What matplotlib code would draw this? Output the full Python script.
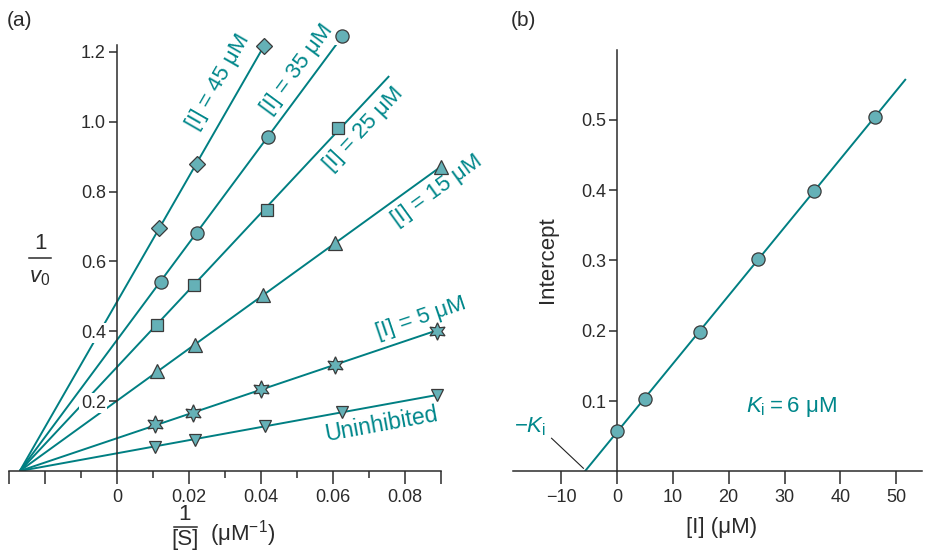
import numpy as np
import matplotlib
matplotlib.use("Agg")
import matplotlib.pyplot as plt
from matplotlib.lines import Line2D

plt.rcParams['font.family'] = ['Liberation Sans', 'DejaVu Sans']
plt.rcParams['mathtext.fontset'] = 'custom'
plt.rcParams['mathtext.rm'] = 'Liberation Sans'
plt.rcParams['mathtext.it'] = 'Liberation Sans:italic'

LINE = '#007f82'
TEXT = '#00878b'
FILL = '#65b1b7'
EDGE = '#3a3a3a'
AXC = '#2b2b2b'

# ---- panel (a): Lineweaver-Burk data ----
series_names = ['Uninhibited', '[I] = 5 μM', '[I] = 15 μM',
                '[I] = 25 μM', '[I] = 35 μM', '[I] = 45 μM']
inv_s = [
    [0.0106, 0.0217, 0.0410, 0.0625, 0.0890],
    [0.0106, 0.0210, 0.0400, 0.0606, 0.0889],
    [0.0110, 0.0217, 0.0406, 0.0606, 0.0900],
    [0.0111, 0.0214, 0.0417, 0.0614],
    [0.0122, 0.0222, 0.0419, 0.0625],
    [0.0117, 0.0222, 0.0408],
]
inv_v = [
    [0.069, 0.089, 0.129, 0.169, 0.218],
    [0.135, 0.166, 0.235, 0.304, 0.401],
    [0.287, 0.361, 0.504, 0.653, 0.871],
    [0.418, 0.533, 0.748, 0.983],
    [0.541, 0.682, 0.957, 1.246],
    [0.696, 0.880, 1.218],
]
markers = ['v', (6, 1, 0), '^', 's', 'o', 'D']
marker_sizes = [9, 12.5, 9.5, 8, 9.5, 8]
line_end = [0.089, 0.098, 0.099, 0.0756, 0.0625, 0.0408]
x_meet = -0.027  # common intersection on the x axis

# label positions (data coords)
label_pos = [(0.0735, 0.133), (0.0844, 0.437), (0.0888, 0.803),
             (0.0685, 0.980), (0.0500, 1.150), (0.0281, 1.115)]
label_size = [16.5, 16, 16, 16, 16, 16]

# ---- panel (b): replot of intercepts ----
conc_i = [0, 5, 14.8, 25.2, 35.3, 46.2]
intercepts = [0.057, 0.103, 0.198, 0.302, 0.399, 0.504]

W, H = 925, 550
fig = plt.figure(figsize=(W / 100, H / 100), dpi=100)


def fx(px):
    return px / W


def fy(py):
    return 1 - py / H


# ---------------- panel (a) ----------------
ax = fig.add_axes([fx(9), fy(471), fx(441) - fx(9), fy(45) - fy(471)])
ax.set_xlim(-0.03, 0.09)
ax.set_ylim(0, 1.22)
ax.set_axisbelow(False)

for i in range(len(series_names)):
    x = np.array(inv_s[i])
    y = np.array(inv_v[i])
    slope = np.sum((x - x_meet) * y) / np.sum((x - x_meet) ** 2)
    xs = np.array([x_meet, line_end[i]])
    ax.plot(xs, slope * (xs - x_meet), color=LINE, lw=1.4, zorder=2,
            solid_capstyle='butt')
    ax.plot(x, y, ls='none', marker=markers[i], ms=marker_sizes[i],
            mfc=FILL, mec=EDGE, mew=0.9, zorder=3, clip_on=False)
    lx, ly = label_pos[i]
    ax.text(lx, ly, series_names[i], color=TEXT, fontsize=label_size[i],
            rotation=np.degrees(np.arctan(slope)), transform_rotates_text=True,
            rotation_mode='anchor', ha='center', va='center')

for s in ['top', 'right']:
    ax.spines[s].set_visible(False)
ax.spines['left'].set_position(('data', 0))
for s in ['left', 'bottom']:
    ax.spines[s].set_color(AXC)
    ax.spines[s].set_linewidth(1.1)

ax.set_yticks([0.2, 0.4, 0.6, 0.8, 1.0, 1.2])
ax.set_yticklabels(['0.2', '0.4', '0.6', '0.8', '1.0', '1.2'])
ax.set_xticks([-0.03, -0.02, 0, 0.02, 0.04, 0.06, 0.08, 0.09])
ax.set_xticklabels(['', '', '0', '0.02', '0.04', '0.06', '0.08', ''])
ax.set_xticks([-0.01, 0.01, 0.03, 0.05, 0.07], minor=True)
ax.tick_params(axis='y', direction='out', length=6, width=1.1, color=AXC,
               labelsize=13, labelcolor=AXC, pad=2)
ax.tick_params(axis='x', which='major', direction='out', length=9, width=1.1,
               color=AXC, labelsize=13, labelcolor=AXC, pad=4)
ax.tick_params(axis='x', which='minor', direction='out', length=5, width=1.1,
               color=AXC)
ax.patch.set_visible(False)

# axis titles drawn as stacked fractions
fig.text(fx(40), fy(243), '1', fontsize=16, color=AXC, ha='center', va='center')
fig.add_artist(Line2D([fx(29), fx(51)], [fy(258), fy(258)], color=AXC, lw=1.1))
fig.text(fx(40), fy(277), r'$\mathit{v}_0$', fontsize=16, color=AXC,
         ha='center', va='center')

fig.text(fx(185), fy(515), '1', fontsize=16, color=AXC, ha='center', va='center')
fig.add_artist(Line2D([fx(174), fx(197)], [fy(527), fy(527)], color=AXC, lw=1.1))
fig.text(fx(185), fy(539), '[S]', fontsize=16, color=AXC, ha='center', va='center')
fig.text(fx(243), fy(534), '(μM$^{-1}$)', fontsize=16, color=AXC,
         ha='center', va='center')

# ---------------- panel (b) ----------------
bx = fig.add_axes([fx(513), fy(471.3), fx(922) - fx(513), fy(49.5) - fy(471.3)])
bx.set_xlim(-18.6, 54.6)
bx.set_ylim(0, 0.6)

m, b = np.polyfit(conc_i, intercepts, 1)
xl = np.array([-b / m, 51.6])
bx.plot(xl, m * xl + b, color=LINE, lw=1.4, zorder=2)
bx.plot(conc_i, intercepts, ls='none', marker='o', ms=9.5, mfc=FILL,
        mec=EDGE, mew=0.9, zorder=3, clip_on=False)

for s in ['top', 'right']:
    bx.spines[s].set_visible(False)
bx.spines['left'].set_position(('data', 0))
for s in ['left', 'bottom']:
    bx.spines[s].set_color(AXC)
    bx.spines[s].set_linewidth(1.1)
bx.set_yticks([0.1, 0.2, 0.3, 0.4, 0.5])
bx.set_yticklabels(['0.1', '0.2', '0.3', '0.4', '0.5'])
bx.set_xticks([-10, 0, 10, 20, 30, 40, 50])
bx.tick_params(axis='y', direction='out', length=6, width=1.1, color=AXC,
               labelsize=13, labelcolor=AXC, pad=2)
bx.tick_params(axis='x', direction='out', length=9, width=1.1, color=AXC,
               labelsize=13, labelcolor=AXC, pad=4)
bx.patch.set_visible(False)

bx.plot([-11.7, -6.0], [0.047, 0.0043], color='#222222', lw=0.8)
bx.text(-15.6, 0.064, r'$-K_{\mathrm{i}}$', color=TEXT, fontsize=16,
        ha='center', va='center')
bx.text(31.2, 0.092, r'$K_{\mathrm{i}}$' + '\u2009=\u20096 μM', color=TEXT,
        fontsize=16, ha='center', va='center')

fig.text(fx(547), fy(260), 'Intercept', fontsize=16, color=AXC, rotation=90,
         ha='center', va='center')
fig.text(fx(722), fy(528), '[I] (μM)', fontsize=16, color=AXC,
         ha='center', va='center')

fig.text(fx(20), fy(20), '(a)', fontsize=15, color=AXC, ha='center', va='center')
fig.text(fx(523), fy(20), '(b)', fontsize=15, color=AXC, ha='center', va='center')

# white boxes behind the y tick labels so the lines break around them
fig.canvas.draw()
for t in ax.yaxis.get_major_ticks():
    t.label1.set_bbox(dict(facecolor='white', edgecolor='none', pad=1.0))

fig.savefig('out.png', dpi=100)
